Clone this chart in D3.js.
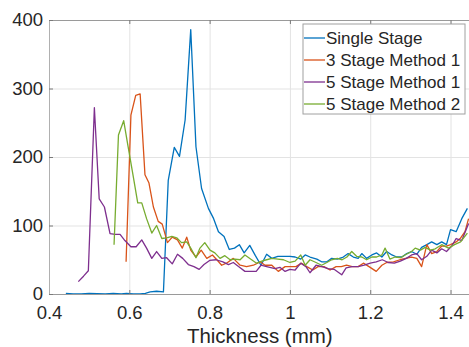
<!DOCTYPE html>
<html><head><meta charset="utf-8">
<script src="https://cdn.jsdelivr.net/npm/d3@7"></script>
<style>body{margin:0;background:#fff}svg{display:block}text{font-family:"Liberation Sans",Arial,sans-serif;fill:#262626}</style>
</head><body><svg id="c" width="469" height="347"></svg>
<script>
const seriesNames = ["Single Stage","3 Stage Method 1","5 Stage Method 1","5 Stage Method 2"];
const seriesColors = ["#0072BD","#D95319","#7E2F8E","#77AC30"];
const xTicks = [0.4,0.6,0.8,1,1.2,1.4];
const yTicks = [0,100,200,300,400];

const singleX = [0.442,0.46,0.48,0.5,0.52,0.54,0.56,0.58,0.593,0.61,0.627,0.64,0.652,0.668,0.685,0.697,0.712,0.725,0.739,0.753,0.766,0.78,0.797,0.81,0.822,0.836,0.849,0.862,0.874,0.886,0.9,0.914,0.928,0.942,0.955,0.97,0.984,1.0,1.013,1.027,1.038,1.05,1.067,1.079,1.092,1.104,1.118,1.133,1.145,1.158,1.17,1.179,1.191,1.204,1.216,1.229,1.241,1.254,1.266,1.279,1.291,1.303,1.316,1.328,1.341,1.353,1.366,1.378,1.39,1.4,1.414,1.428,1.442];
const singleY = [1,0,0,1,0.5,0,1,0,1,0,0,1,3,4,3,166,214,201,254,386,215,154,125,110,91,84,65,67,72,60,71,56,42,58,52,55,55,55,54,51,57,54,51,47,47,52,51,54,59,54,52,59,52,57,60,54,62,57,54,54,59,62,58,68,72,76,72,76,72,94,91,110,125];

const stage3m1X = [0.592,0.604,0.616,0.627,0.639,0.649,0.66,0.672,0.682,0.695,0.707,0.72,0.732,0.743,0.753,0.766,0.779,0.793,0.807,0.818,0.83,0.842,0.859,0.876,0.892,0.909,0.926,0.938,0.955,0.971,0.988,1.0,1.015,1.029,1.042,1.057,1.07,1.085,1.1,1.115,1.128,1.141,1.155,1.17,1.183,1.197,1.215,1.229,1.241,1.258,1.274,1.288,1.303,1.316,1.328,1.341,1.353,1.366,1.378,1.39,1.4,1.414,1.424,1.436,1.445];
const stage3m1Y = [47,261,290,292,174,162,127,106,102,75,83,79,67,83,64,54,64,52,57,50,42,45,52,42,40,42,47,42,42,33,40,40,40,45,40,35,40,40,35,40,40,42,40,40,45,40,33,42,46,47,50,52,54,52,40,72,59,62,70,70,72,76,81,91,110];

const stage5m1X = [0.473,0.486,0.498,0.513,0.525,0.538,0.552,0.565,0.577,0.589,0.604,0.617,0.631,0.643,0.656,0.668,0.681,0.693,0.707,0.72,0.733,0.747,0.761,0.774,0.786,0.8,0.816,0.833,0.847,0.859,0.872,0.888,0.9,0.916,0.928,0.942,0.963,0.975,0.988,1.0,1.013,1.027,1.04,1.05,1.065,1.08,1.095,1.11,1.129,1.14,1.155,1.17,1.185,1.2,1.215,1.23,1.245,1.26,1.275,1.29,1.303,1.316,1.328,1.341,1.353,1.366,1.378,1.39,1.403,1.414,1.428,1.445];
const stage5m1Y = [18,26,34,272,139,127,88,87,87,78,69,69,79,67,52,62,52,53,44,58,52,43,40,36,43,49,50,47,43,46,40,33,33,33,42,40,37,39,33,36,35,45,40,31,42,40,37,36,28,38,40,40,42,45,47,50,46,45,48,52,57,59,50,55,64,60,66,62,70,81,78,103];

const stage5m2X = [0.562,0.573,0.586,0.597,0.61,0.621,0.631,0.643,0.656,0.668,0.681,0.693,0.706,0.718,0.73,0.743,0.755,0.766,0.776,0.788,0.801,0.813,0.826,0.838,0.851,0.863,0.876,0.888,0.902,0.917,0.93,0.942,0.955,0.97,0.984,1.0,1.013,1.027,1.038,1.05,1.065,1.079,1.092,1.104,1.118,1.13,1.142,1.154,1.166,1.179,1.191,1.204,1.216,1.229,1.237,1.249,1.262,1.275,1.29,1.303,1.312,1.325,1.337,1.35,1.362,1.378,1.395,1.41,1.425,1.442];
const stage5m2Y = [72,232,253,215,171,133,133,110,89,100,81,82,84,82,75,76,65,53,67,75,64,60,52,56,50,51,50,57,51,45,48,50,52,51,50,46,48,57,42,50,46,42,46,50,52,50,54,62,55,54,50,54,54,57,67,51,54,53,58,62,67,64,68,64,66,72,67,72,76,89];

const seriesX = [singleX, stage3m1X, stage5m1X, stage5m2X];
const seriesY = [singleY, stage3m1Y, stage5m1Y, stage5m2Y];

const svg = d3.select("#c");
const L = 49, T = 20, R = 470.6, B = 294;
const x = d3.scaleLinear().domain([0.4,1.45]).range([L,R]);
const y = d3.scaleLinear().domain([0,400]).range([B,T]);

// grid
svg.append("g").attr("transform",`translate(0,${B})`)
  .call(d3.axisBottom(x).tickValues(xTicks).tickSize(-(B-T)).tickFormat(""))
  .call(g=>{g.select(".domain").remove();g.selectAll("line").attr("stroke","#e3e3e3");});
svg.append("g").attr("transform",`translate(${L},0)`)
  .call(d3.axisLeft(y).tickValues(yTicks).tickSize(-(R-L)).tickFormat(""))
  .call(g=>{g.select(".domain").remove();g.selectAll("line").attr("stroke","#e3e3e3");});

// lines
const line = d3.line().x(d=>x(d[0])).y(d=>y(d[1]));
seriesX.forEach((xs,i)=>{
  const pts = xs.map((v,j)=>[v, seriesY[i][j]]);
  svg.append("path").datum(pts).attr("d",line).attr("fill","none")
    .attr("stroke",seriesColors[i]).attr("stroke-width",1.3).attr("stroke-linejoin","round");
});

// axes
const fmt = d=>String(d);
svg.append("g").attr("transform",`translate(0,${B})`)
  .call(d3.axisBottom(x).tickValues(xTicks).tickSizeInner(-4).tickSizeOuter(0).tickPadding(12).tickFormat(fmt))
  .call(g=>{g.select(".domain").attr("stroke","#9a9a9a");g.selectAll("line").attr("stroke","#7a7a7a");
    g.selectAll("text").attr("font-size",18.5).attr("fill","#262626").attr("font-family","Liberation Sans, Arial, sans-serif");});
svg.append("g").attr("transform",`translate(0,${T})`)
  .call(d3.axisTop(x).tickValues(xTicks).tickSizeInner(-4).tickSizeOuter(0).tickFormat(""))
  .call(g=>{g.select(".domain").attr("stroke","#9a9a9a");g.selectAll("line").attr("stroke","#7a7a7a");});
svg.append("g").attr("transform",`translate(${L},0)`)
  .call(d3.axisLeft(y).tickValues(yTicks).tickSizeInner(-4).tickSizeOuter(0).tickPadding(6).tickFormat(fmt))
  .call(g=>{g.select(".domain").attr("stroke","#b0b0b0");g.selectAll("line").attr("stroke","#7a7a7a");
    g.selectAll("text").attr("font-size",18.5).attr("fill","#262626").attr("font-family","Liberation Sans, Arial, sans-serif");});

svg.append("text").attr("x",(L+R)/2).attr("y",343).attr("text-anchor","middle")
  .attr("font-size",20.5).text("Thickness (mm)");

// legend
const lg = svg.append("g");
lg.append("rect").attr("x",303).attr("y",24).attr("width",162).attr("height",90)
  .attr("fill","#fff").attr("stroke","#a0a0a0").attr("stroke-width",1);
seriesNames.forEach((n,i)=>{
  const cy = 38 + i*22;
  lg.append("line").attr("x1",304).attr("x2",325).attr("y1",cy).attr("y2",cy)
    .attr("stroke",seriesColors[i]).attr("stroke-width",1.3);
  lg.append("text").attr("x",326).attr("y",cy+6).attr("font-size",17).text(n);
});
</script></body></html>
